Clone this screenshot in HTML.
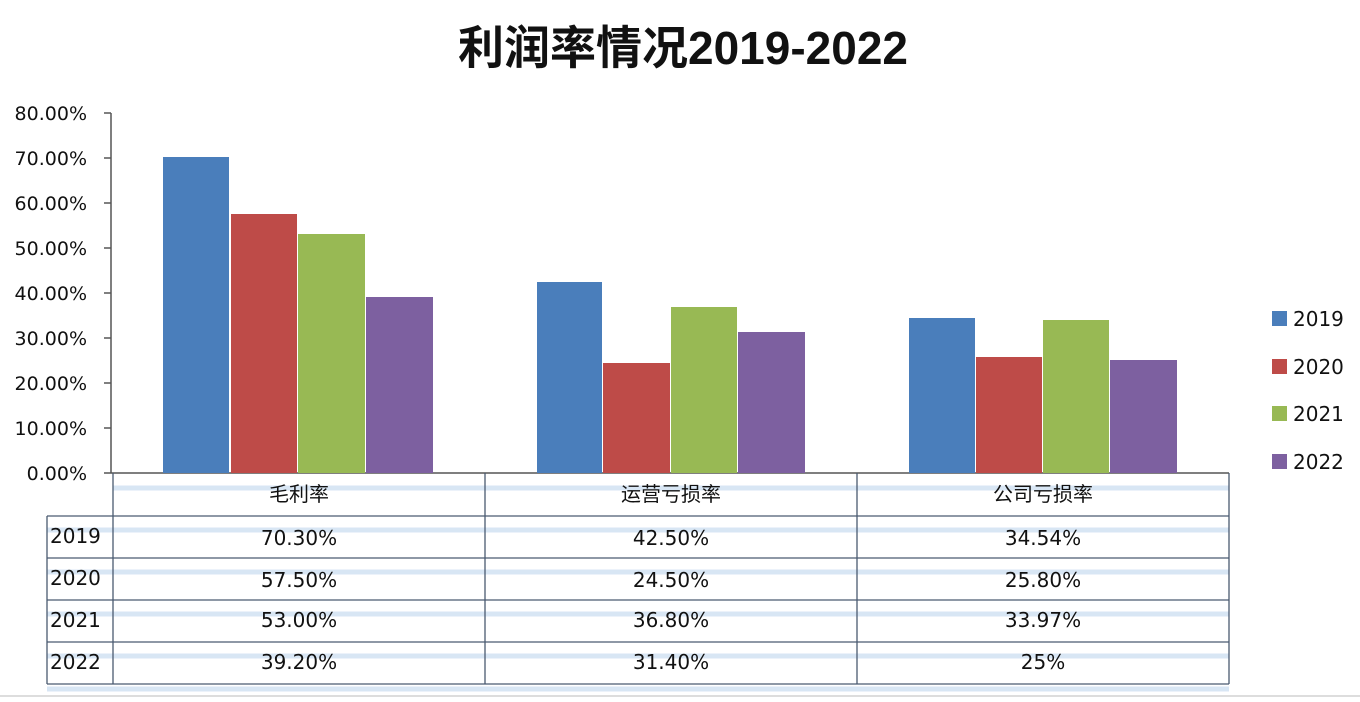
<!DOCTYPE html>
<html><head><meta charset="utf-8"><style>
html,body{margin:0;padding:0;background:#fff;width:1360px;height:702px;overflow:hidden}
text{font-family:"DejaVu Sans","Liberation Sans","Noto Sans CJK SC",sans-serif;fill:#111}
</style></head><body>
<svg width="1360" height="702" xmlns="http://www.w3.org/2000/svg">
<text x="683" y="64" text-anchor="middle" style="font-family:'Liberation Sans','Noto Sans CJK SC',sans-serif;font-weight:bold;font-size:46px">利润率情况2019-2022</text>
<g font-size="19">
<text x="87" y="120" text-anchor="end">80.00%</text>
<text x="87" y="165" text-anchor="end">70.00%</text>
<text x="87" y="210" text-anchor="end">60.00%</text>
<text x="87" y="255" text-anchor="end">50.00%</text>
<text x="87" y="300" text-anchor="end">40.00%</text>
<text x="87" y="345" text-anchor="end">30.00%</text>
<text x="87" y="390" text-anchor="end">20.00%</text>
<text x="87" y="435" text-anchor="end">10.00%</text>
<text x="87" y="480" text-anchor="end">0.00%</text>
</g>
<g stroke="#555" stroke-width="1.5">
<line x1="111" y1="113" x2="111" y2="473"/>
<line x1="104" y1="113" x2="111" y2="113"/><line x1="104" y1="158" x2="111" y2="158"/>
<line x1="104" y1="203" x2="111" y2="203"/><line x1="104" y1="248" x2="111" y2="248"/>
<line x1="104" y1="293" x2="111" y2="293"/><line x1="104" y1="338" x2="111" y2="338"/>
<line x1="104" y1="383" x2="111" y2="383"/><line x1="104" y1="428" x2="111" y2="428"/>
<line x1="104" y1="473" x2="1229" y2="473"/>
</g>
<g>
<rect x="163" y="157" width="66" height="316" fill="#4a7ebb"/>
<rect x="231" y="214" width="66" height="259" fill="#be4b48"/>
<rect x="298" y="234" width="67" height="239" fill="#98b954"/>
<rect x="366" y="297" width="67" height="176" fill="#7d60a0"/>
<rect x="537" y="282" width="65" height="191" fill="#4a7ebb"/>
<rect x="603" y="363" width="67" height="110" fill="#be4b48"/>
<rect x="671" y="307" width="66" height="166" fill="#98b954"/>
<rect x="738" y="332" width="67" height="141" fill="#7d60a0"/>
<rect x="909" y="318" width="66" height="155" fill="#4a7ebb"/>
<rect x="976" y="357" width="66" height="116" fill="#be4b48"/>
<rect x="1043" y="320" width="66" height="153" fill="#98b954"/>
<rect x="1110" y="360" width="67" height="113" fill="#7d60a0"/>
</g>
<g>
<rect x="1272" y="311" width="15" height="15" fill="#4a7ebb"/>
<rect x="1272" y="359" width="15" height="15" fill="#be4b48"/>
<rect x="1272" y="406" width="15" height="15" fill="#98b954"/>
<rect x="1272" y="454" width="15" height="15" fill="#7d60a0"/>
<g font-size="20"><text x="1293" y="326">2019</text><text x="1293" y="374">2020</text><text x="1293" y="421">2021</text><text x="1293" y="469">2022</text></g>
</g>
<g stroke="#cfe0f2" stroke-width="5" opacity="0.8">
<line x1="113" y1="488" x2="1229" y2="488"/>
<line x1="47" y1="530" x2="1229" y2="530"/>
<line x1="47" y1="572" x2="1229" y2="572"/>
<line x1="47" y1="614" x2="1229" y2="614"/>
<line x1="47" y1="656" x2="1229" y2="656"/>
<line x1="47" y1="689" x2="1229" y2="689"/>
</g>
<g stroke="#4a5a70" stroke-width="1.3" fill="none">
<line x1="113" y1="473" x2="113" y2="684"/>
<line x1="485" y1="473" x2="485" y2="684"/>
<line x1="857" y1="473" x2="857" y2="684"/>
<line x1="1229" y1="473" x2="1229" y2="684"/>
<line x1="47" y1="516" x2="47" y2="684"/>
<line x1="47" y1="516" x2="1229" y2="516"/>
<line x1="47" y1="558" x2="1229" y2="558"/>
<line x1="47" y1="600" x2="1229" y2="600"/>
<line x1="47" y1="642" x2="1229" y2="642"/>
<line x1="47" y1="684" x2="1229" y2="684"/>
</g>
<line x1="0" y1="696" x2="1360" y2="696" stroke="#bbb"/>
<g font-size="20">
<text x="299" y="501" text-anchor="middle">毛利率</text>
<text x="671" y="501" text-anchor="middle">运营亏损率</text>
<text x="1043" y="501" text-anchor="middle">公司亏损率</text>
<text x="50" y="543">2019</text><text x="50" y="585">2020</text><text x="50" y="627">2021</text><text x="50" y="669">2022</text>
<text x="299" y="545" text-anchor="middle">70.30%</text><text x="671" y="545" text-anchor="middle">42.50%</text><text x="1043" y="545" text-anchor="middle">34.54%</text>
<text x="299" y="587" text-anchor="middle">57.50%</text><text x="671" y="587" text-anchor="middle">24.50%</text><text x="1043" y="587" text-anchor="middle">25.80%</text>
<text x="299" y="627" text-anchor="middle">53.00%</text><text x="671" y="627" text-anchor="middle">36.80%</text><text x="1043" y="627" text-anchor="middle">33.97%</text>
<text x="299" y="669" text-anchor="middle">39.20%</text><text x="671" y="669" text-anchor="middle">31.40%</text><text x="1043" y="669" text-anchor="middle">25%</text>
</g>
</svg>
</body></html>
